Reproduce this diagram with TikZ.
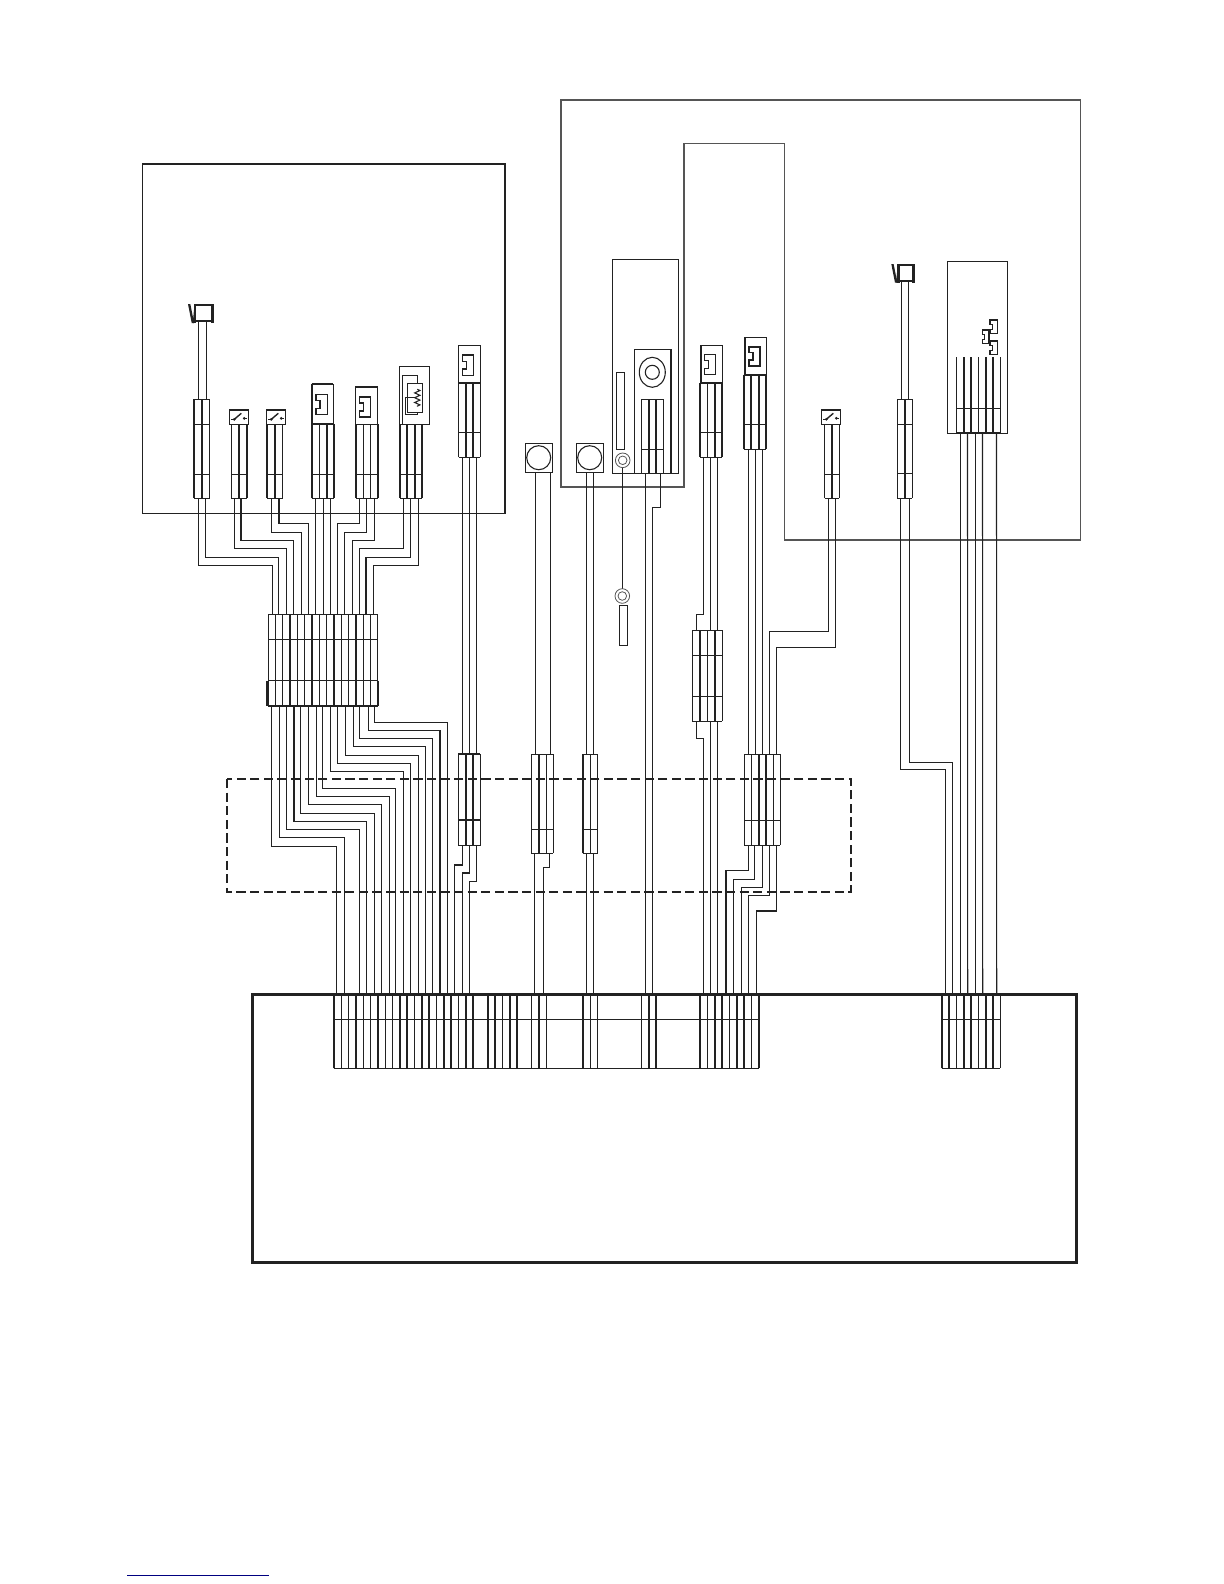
\documentclass[tikz,border=0pt]{standalone}
\usetikzlibrary{decorations.pathmorphing}
\usepackage{xcolor}

\definecolor{ink}{HTML}{222222}
\definecolor{casing}{HTML}{555555}
\definecolor{linkblue}{HTML}{000080}

\tikzset{
  wire/.style={draw=ink, line width=0.55pt},
  bold/.style={draw=ink, line width=1.05pt},
  casingline/.style={draw=casing, line width=0.6pt},
  zone/.style={draw=ink, line width=1.2pt, dash pattern=on 4.6bp off 2.2bp},
}

% pins: name, x list, y
\newcommand{\pin}[3]{\foreach \x [count=\i] in {#2} {\coordinate (#1\i) at (\x,#3);}}
% wire with one horizontal run
\newcommand{\wire}[3]{\draw[wire] (#1) -- (#1 |- 0,#2) -- (#3 |- 0,#2) -- (#3);}
% plug: xl, xr, ytop, ybot, rungs, thin bars, thick bars
\newcommand{\plug}[7]{
  \foreach \y in {#5} {\draw[wire] (#1,\y) -- (#2,\y);}
  \foreach \x in {#6} {\draw[wire] (\x,#3) -- (\x,#4);}
  \foreach \x in {#7} {\draw[bold] (\x,#3) -- (\x,#4);}
}
\newcommand{\jack}[3]{
  \draw[bold, line width=0.8pt, shift={(#1,#2)}, scale=#3] (0,0) -- (11.3,0) -- (11.3,20.3) -- (0,20.3)
    -- (0,14) -- (4,14) -- (4,6.3) -- (0,6.3) -- cycle;
}
\newcommand{\tinyjack}[3]{
  \draw[wire, line width=0.65pt, shift={(#1,#2)}, xscale=#3, yscale=0.66] (0,0) -- (11.3,0) -- (11.3,20.3) -- (0,20.3)
    -- (0,14) -- (4,14) -- (4,6.3) -- (0,6.3) -- cycle;
}
\newcommand{\switchbox}[2]{
  \begin{scope}[shift={(#1,#2)}]
    \draw[wire] (0,0) rectangle (19.4,14);
    \draw[bold] (0,0) -- (19.4,0);
    \draw[wire] (2,9) -- (5,9);
    \draw[bold, line width=0.7pt] (5,9) -- (12,3);
    \draw[wire] (15,8) -- (18,8);
    \fill[ink] (5,9) circle (1.5) (15,8) circle (1.5);
  \end{scope}
}
% sensor: x, y, width, height
\newcommand{\sensorhead}[4]{
  \begin{scope}[shift={(#1,#2)}]
    \draw[bold, line width=0.8pt] (0,0) rectangle (#3,#4);
    \draw[bold, line width=1.5pt] (#3,-1) -- (#3,#4+2) (0,-1) -- (0,#4+2);
    \fill[ink] (-7,-1) -- (-4.7,-1) -- (-0.9,#4+2) -- (-3.3,#4+2) -- cycle;
    \draw[wire] (-1.7,#4+2) -- (0,0);
  \end{scope}
}

\begin{document}
\begin{tikzpicture}[x=0.5bp, y=-0.5bp]
  \useasboundingbox (0,0) rectangle (1224,1584);

  % casings
  \draw[wire] (142.7,164) rectangle (505,513.3);
  \draw[bold, line width=0.95pt] (142.7,164) -- (505,164);
  \draw[casingline] (561,100) -- (1080.6,100) -- (1080.6,540) -- (784.5,540) -- (784.5,143.5)
    -- (684,143.5) -- (684,487) -- (561,487) -- cycle;
  \draw[wire] (612.3,259.3) rectangle (678.3,473.3);
  \draw[wire] (634.3,473.3) -- (634.3,349.3) -- (671,349.3);
  \draw[bold] (671,349.3) -- (671,473.3);
  \draw[wire] (947.3,261.7) rectangle (1007.3,433.3);
  \draw[zone] (227,779) rectangle (851,892);

  % pins
  \pin{a}{198.7,205.3}{498.3}
  \pin{b}{234.7,241}{498.3}
  \pin{c}{271.7,279}{498.3}
  \pin{d}{315.3,323.3,330.3}{498.3}
  \pin{e}{359.7,366.3,374.3}{498.3}
  \pin{f}{403.7,410.7,418.3}{498.3}
  \pin{g}{462.7,469.3,476.3}{457.3}
  \pin{gt}{462.7,469.3,476.3}{754}
  \pin{gb}{462.7,469.7,476.7}{845.7}
  \pin{ht}{272.7,278.3,286.7,293.3,301.3,308.3,315.3,323.3,330.3,337.3,344.3,352.3,359.3,366,373.3}{614.3}
  \pin{hb}{271.7,279.3,286.3,294,300.7,308.7,316.7,322.7,330.7,337.7,345.7,353.7,359.3,368.3,374.3}{705.7}
  \pin{ft}{336.7,344.3,359.3,366.7,374.3,381.7,389.3,395.7,403.3,410.7,418.3,425.7,432.3,440,447.3,454.5,462.3,469.3,534.3,543.3,586.5,593.5,645.3,652.3,703.3,710.3,717.3,726,733.3,741.3,748.3,756.3,945.7,952.7,960.3,967.7,975.7,982.7,996.7}{994.3}
  \pin{ra}{535.5,550.5}{472.3}
  \pin{rat}{535.5,550.5}{754.3}
  \pin{rab}{534.3,549.3}{853.3}
  \pin{rb}{586.5,593.5}{472.3}
  \pin{rbt}{586.5,593.5}{754.3}
  \pin{rbb}{586.5,593.5}{853.3}
  \pin{p}{645.3,660.3}{473.3}
  \pin{k}{703.3,710.3,717.3}{457.3}
  \pin{mt}{696.3,710.3,717.3}{630.3}
  \pin{mb}{696.3,710.3,717.3}{721.3}
  \pin{l}{748.3,755.3,762.3}{449.3}
  \pin{s}{828.3,835.3}{498.3}
  \pin{nt}{748.3,755.3,762.3,769.3,776.3}{754.3}
  \pin{nb}{748.3,754.3,762.3,769.3,776.3}{845.3}
  \pin{vt}{901.3,908.7}{280.7}
  \pin{vb}{901.3,908.7}{399.3}
  \pin{t}{900.7,909.3}{498.3}
  \pin{w}{960.3,967.5,975.7,982.5,996.5}{432.7}
  \pin{at}{198.7,206.3}{321.7}
  \pin{ab}{198.7,206.3}{399.3}
  \coordinate (ringa) at (622.3,467.6);
  \coordinate (ringb) at (622.3,588.7);

  % wires
  \foreach \p/\q/\y in {a1/ht1/565.3, a2/ht2/557.3, b1/ht3/548.3, b2/ht4/540.3, c1/ht5/532.3, c2/ht6/523.3,
      e1/ht10/523.3, e2/ht11/532.3, e3/ht12/540.3, f1/ht13/548.3, f2/ht14/557.3, f3/ht15/565.3} {
    \wire{\p}{\y}{\q}
  }
  \foreach \i in {7,8,9} {
    \pgfmathtruncatemacro\j{\i-6}
    \draw[wire] (d\j) -- (ht\i);
  }
  \foreach \i/\y in {1/846.3, 2/837.3, 3/829.3, 4/821.3, 5/813.3, 6/804.3, 7/796.3, 8/788.3,
      9/771.7, 10/763.3, 11/755.3, 12/746.7, 13/738.3, 14/730.3, 15/722.3} {
    \wire{hb\i}{\y}{ft\i}
  }
  \foreach \p/\q in {g1/gt1, g2/gt2, g3/gt3, ra1/rat1, ra2/rat2, rb1/rbt1, rb2/rbt2, rab1/ft19, rbb1/ft21, rbb2/ft22,
      p1/ft23, k2/mt2, k3/mt3, mb2/ft26, mb3/ft27, l1/nt1, l2/nt2, l3/nt3, at1/ab1, at2/ab2, vt1/vb1, vt2/vb2,
      w1/ft35, w2/ft36, w3/ft37, w4/ft38, w5/ft39, ringa/ringb} {
    \draw[wire] (\p) -- (\q);
  }
  \foreach \p/\q/\y in {gb1/ft16/865, gb2/ft17/873, gb3/ft18/881.3, rab2/ft20/867.3, p2/ft24/507.3,
      k1/mt1/614.3, mb1/ft25/738.3, s1/nt4/631.3, s2/nt5/647.3,
      nb1/ft28/870.3, nb2/ft29/879.3, nb3/ft30/887.7, nb4/ft31/895.3, nb5/ft32/911,
      t1/ft33/769.3, t2/ft34/762.3} {
    \wire{\p}{\y}{\q}
  }

  % plugs in the left casing
  \plug{194.3}{209.7}{399.3}{498.3}{399.3,424.3,474.3,498.3}{209.7}{194.3,202}
  \plug{231.3}{246.7}{424.3}{498.3}{474.3,498.3}{231.3}{239,246.7}
  \plug{267.3}{282.7}{424.3}{498.3}{474.3,498.3}{275,282.7}{267.3}
  \plug{311.7}{334}{424.3}{498.3}{474.3,498.3}{319.3}{311.7,326.7,334}
  \plug{356}{378.3}{424.3}{498.3}{474.3,498.3}{363.3,370.7}{356,378.3}
  \plug{400}{422.3}{424.3}{498.3}{474.3,498.3}{415}{400,407.3,422.3}
  \plug{458.7}{480.3}{382.7}{457.3}{382.7,432.7,457.3}{458.7,480.3}{466,473.3}
  \sensorhead{195}{305}{17.5}{16}
  \switchbox{229.3}{410.3}
  \switchbox{266.3}{410.3}
  \draw[wire] (311.7,384.3) rectangle (333.3,424.3);
  \draw[bold] (311.7,384.3) -- (333.3,384.3) (311.7,384.3) -- (311.7,424.3) (311.7,424) -- (333.3,424);
  \jack{316}{394.3}{1}
  \draw[wire] (355.3,386.7) rectangle (377.7,424.3);
  \draw[bold] (355.3,386.7) -- (377.7,386.7);
  \jack{359.3}{396.7}{1}
  \draw[wire] (399.3,366.3) rectangle (429.3,424.3);
  \jack{462.3}{355}{1}
  \draw[wire] (458.3,345.3) rectangle (480.3,382.7);
  \draw[bold] (458.3,382.7) -- (480.3,382.7);

  % thermistor
  \draw[wire] (402.3,424.3) -- (402.3,375.3) -- (417.3,375.3) -- (417.3,383.3);
  \draw[wire] (407.3,383.3) rectangle (422.7,412.7);
  \draw[wire] (415.3,397.3) -- (405.3,397.3) -- (405.3,414.7) -- (417.3,414.7) -- (417.3,412.7);
  \draw[wire, decorate, decoration={zigzag, segment length=2.4bp, amplitude=1.3bp}] (417.3,389.3) -- (417.3,406.7);

  % harness block
  \plug{268.3}{377.3}{614.3}{705.7}{614.3,639.3,680.7}{268.3,275.7,282.7,297.3,304.7,319.3,326.7,341.3,348.7,363.3,370.3,377.3}{290,312,334,356}
  \draw[bold, line width=0.8pt] (267.5,705.7) -- (378,705.7);
  \draw[bold, line width=1.3pt] (267.7,680.7) -- (267.7,706) (378,680.7) -- (378,706);

  % plugs on the dashed zone
  \plug{458.3}{480.3}{754}{845.7}{754,820,845.7}{458.3,480.3}{466,473.3}
  \plug{531.3}{553.3}{754.3}{853.3}{754.3,829.3,853.3}{531.3,546.3,553.3}{539}
  \plug{582.7}{597.7}{754.3}{853.3}{754.3,829.3,853.3}{590.3,597.7}{582.7}
  \plug{744.3}{780.3}{754.3}{845.3}{754.3,820.3,845.3}{744.3,751.7,773.3,780.3}{759,766}

  % round sensors
  \draw[wire] (525.3,443.3) rectangle (552.3,472.3);
  \draw[wire] (538.7,457.7) circle (12);
  \draw[wire] (576.3,443.3) rectangle (603.3,472.3);
  \draw[wire] (589.7,457.7) circle (12);

  % speaker board
  \draw[wire] (652.3,372.3) ellipse (13 and 15);
  \draw[wire] (652.3,372.3) circle (7);
  \draw[wire] (616.3,372.3) rectangle (624.7,449.3);
  \plug{641.3}{663.3}{399.3}{473.3}{399.3,449.3}{641.3,663.3}{648.7,656}
  \draw[casingline, line width=0.4pt] (622.7,460.3) circle (7.3) (622.7,460.3) circle (4.3);
  \draw[casingline, line width=0.4pt] (622.3,596) circle (7.3) (622.3,596) circle (4.3);
  \draw[wire] (619.3,605.3) rectangle (627.7,645.3);

  % plugs in the right casing
  \draw[bold, line width=0.8pt] (700.7,345.3) rectangle (722.3,382.7);
  \jack{704.3}{354.3}{1}
  \plug{700}{722}{382.7}{457.3}{382.7,432.3,457.3}{707.3}{700,714.7,722}
  \draw[bold, line width=0.8pt] (744.7,337.3) rectangle (766.3,374.7);
  \jack{749}{346.7}{0.95}
  \plug{743.7}{766}{374.7}{449.3}{374.7,424.3,449.3}{751}{743.7,758.7,766}
  \plug{692.3}{722.3}{630.3}{721.3}{630.3,655.7,696.3,721.3}{692.3,707.3,722.3}{700,715}
  \switchbox{821.3}{410.3}
  \plug{824.7}{839.3}{424.3}{498.3}{474.3,498.3}{824.7,839.3}{832}
  \sensorhead{898.3}{265}{15}{15.7}
  \plug{897.3}{912.3}{399.3}{498.3}{399.3,424.3,473.3,498.3}{897.3,912.3}{905}
  \plug{956.7}{1000.3}{357.3}{432.7}{408.3,432.7}{956.7,978.7,1000.3}{964,971,986,993.3}
  \draw[bold] (956.7,432.7) -- (1000.3,432.7);
  \tinyjack{990}{320}{0.68}
  \tinyjack{982.3}{330}{0.58}
  \tinyjack{990}{341}{0.68}

  % main board
  \plug{333.7}{759}{994.3}{1068.3}{1019.7,1068.3}{341.3,348.3,363.3,370.7,385.3,392.7,414.3,436.3,458.3,502.3,531.3,546.7,590.3,597.7,641.7,707.3,729.3,751.3}{333.7,355.7,377.7,400,407,421.7,429,443.7,450.7,465.7,473,487.7,495,509.7,517,538.7,583,649,656,700,714.7,722,736.7,744,759}
  \plug{941.7}{1000.3}{994.3}{1068.3}{1019.3,1068.3}{956.3,978.3,1000.3}{941.7,949,963.7,971,985.7,993}
  \draw[ink, line width=0.8pt] (333.7,1068.3) -- (759,1068.3) (941.7,1068.3) -- (1000.3,1068.3);
  \draw[ink, line width=1.4pt] (252.5,994.3) rectangle (1076.6,1262.5);

  % link rule under the page
  \draw[linkblue, line width=0.65pt] (127,1575.3) -- (269,1575.3);
\end{tikzpicture}
\end{document}
